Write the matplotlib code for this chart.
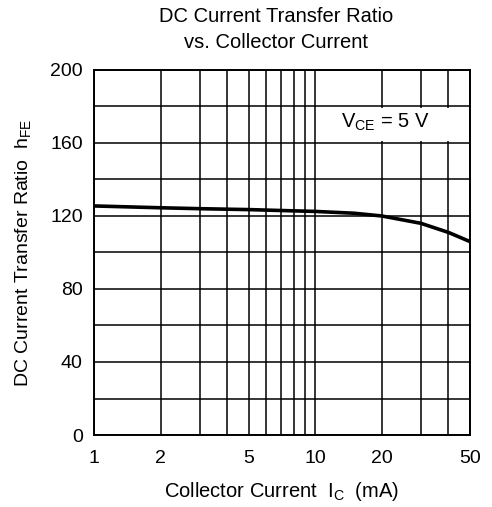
import matplotlib
matplotlib.use('Agg')
import matplotlib.pyplot as plt
from matplotlib.patches import Rectangle

plt.rcParams['font.family'] = ['Liberation Sans', 'DejaVu Sans']

# Данные кривой hFE
ic_ma = [1, 2, 3, 5, 7, 10, 15, 20, 30, 40, 50]
hfe = [125.5, 124.5, 124, 123.5, 123, 122.5, 121.5, 120, 116, 111, 106]

x_ticks = [1, 2, 5, 10, 20, 50]
x_grid = [1, 2, 3, 4, 5, 6, 7, 8, 9, 10, 20, 30, 40, 50]
y_ticks = [0, 40, 80, 120, 160, 200]
y_grid = [0, 20, 40, 60, 80, 100, 120, 140, 160, 180, 200]

fig = plt.figure(figsize=(4.92, 5.07), dpi=100)
ax = fig.add_axes([0.191, 0.142, 0.764, 0.720])

ax.set_xscale('log')
ax.set_xlim(1, 50)
ax.set_ylim(0, 200)

for x in x_grid:
    ax.axvline(x, color='black', lw=1.1, zorder=1)
for y in y_grid:
    ax.axhline(y, color='black', lw=1.1, zorder=1)

ax.plot(ic_ma, hfe, color='black', lw=2.6, zorder=3)

ax.set_xticks(x_ticks)
ax.set_xticklabels([str(v) for v in x_ticks])
ax.set_xticks([], minor=True)
ax.set_yticks(y_ticks)
ax.tick_params(length=0, labelsize=14)
ax.tick_params(axis='x', pad=11)
ax.tick_params(axis='y', pad=8)

for s in ax.spines.values():
    s.set_linewidth(1.4)

# белая подложка под надписью V_CE
ax.add_patch(Rectangle((0.592, 0.805), 0.385, 0.09, transform=ax.transAxes,
                       facecolor='white', edgecolor='none', zorder=2))
ax.text(0.774, 0.857, r'V$_{\mathregular{CE}}$ = 5 V', transform=ax.transAxes,
        ha='center', va='center', fontsize=14.5, zorder=4)

ax.set_xlabel(r'Collector Current  I$_{\mathregular{C}}$  (mA)', fontsize=14.5, labelpad=9)
ax.set_ylabel(r'DC Current Transfer Ratio  h$_{\mathregular{FE}}$', fontsize=14, labelpad=12)
fig.text(0.561, 0.942, 'DC Current Transfer Ratio\nvs. Collector Current',
         ha='center', va='center', fontsize=14.5, linespacing=1.45)

fig.savefig('out.png', dpi=100)
